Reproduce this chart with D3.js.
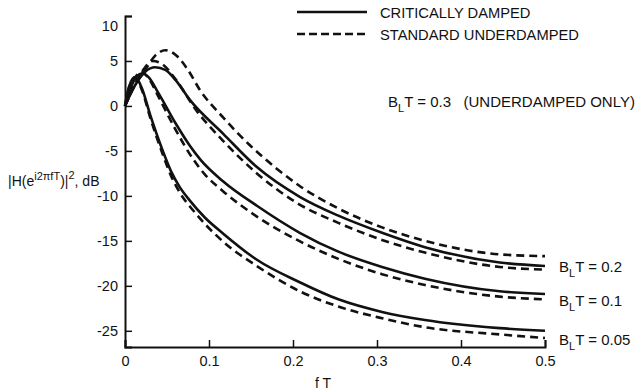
<!DOCTYPE html>
<html>
<head>
<meta charset="utf-8">
<script src="https://cdn.jsdelivr.net/npm/d3@7"></script>
<style>
  body { margin: 0; background: #fff; }
  text { font-family: 'Liberation Sans', Arial, sans-serif; fill: #111; }
</style>
</head>
<body>
<div id="chart"></div>
<script>
// response curves, [fT, dB]
const critical005 = [[0,0],[0.005,2.2],[0.012,3.2],[0.02,2.0],[0.03,-1.0],[0.045,-5.0],[0.055,-7.3],[0.065,-9.0],[0.077,-10.5],[0.095,-12.4],[0.117,-14.2],[0.157,-17.1],[0.208,-19.6],[0.254,-21.5],[0.306,-22.9],[0.357,-23.8],[0.446,-24.7],[0.5,-25.0]]
const under005 = [[0,0],[0.005,2.1],[0.012,3.0],[0.02,1.8],[0.03,-1.3],[0.045,-5.4],[0.055,-7.8],[0.065,-9.6],[0.081,-11.6],[0.095,-13.1],[0.117,-15.1],[0.157,-17.8],[0.208,-20.6],[0.254,-22.3],[0.306,-23.6],[0.357,-24.6],[0.446,-25.4],[0.5,-25.8]]
const critical01 = [[0,0],[0.008,2.3],[0.02,3.6],[0.028,3.2],[0.04,1.4],[0.06,-1.9],[0.077,-4.4],[0.09,-6.0],[0.117,-8.4],[0.157,-11.1],[0.208,-14.1],[0.254,-16.2],[0.306,-17.9],[0.357,-19.2],[0.446,-20.6],[0.5,-20.9]]
const under01 = [[0,0],[0.008,2.3],[0.019,3.8],[0.028,3.1],[0.04,1.0],[0.06,-2.6],[0.081,-5.9],[0.095,-7.6],[0.117,-9.5],[0.157,-12.3],[0.205,-14.9],[0.254,-17.0],[0.306,-18.7],[0.357,-19.9],[0.446,-21.2],[0.5,-21.5]]
const critical02 = [[0,0],[0.012,2.3],[0.024,3.8],[0.036,4.3],[0.048,4.0],[0.06,2.9],[0.077,0.7],[0.117,-3.1],[0.157,-6.8],[0.208,-10.1],[0.254,-12.2],[0.306,-14.1],[0.357,-15.7],[0.446,-17.4],[0.5,-17.8]]
const under02 = [[0,0],[0.012,2.4],[0.024,4.3],[0.033,5.0],[0.045,4.6],[0.06,3.0],[0.085,-0.5],[0.117,-3.9],[0.157,-7.5],[0.205,-10.8],[0.254,-13.0],[0.306,-14.9],[0.357,-16.3],[0.446,-17.9],[0.5,-18.2]]
const under03 = [[0,0],[0.012,2.4],[0.024,4.0],[0.036,5.6],[0.048,6.2],[0.06,5.7],[0.075,4.0],[0.089,1.8],[0.117,-1.3],[0.149,-4.4],[0.181,-7.0],[0.208,-8.9],[0.254,-11.4],[0.306,-13.5],[0.357,-15.0],[0.446,-16.5],[0.5,-16.7]]

const xTicks = [0, 0.1, 0.2, 0.3, 0.4, 0.5]
const yTicks = [10, 5, 0, -5, -10, -15, -20, -25]
const curveLabels = [['0.2', -17.9], ['0.1', -21.7], ['0.05', -26.0]]

const width = 643, height = 392
const margin = {top: 16, right: 98, bottom: 45, left: 125}

const svg = d3.select('#chart').append('svg')
  .attr('width', width)
  .attr('height', height)

const x = d3.scaleLinear()
  .domain([0, 0.5])
  .range([margin.left, width - margin.right])
const y = d3.scaleLinear()
  .domain([-26.8, 10])
  .range([height - margin.bottom, margin.top])

// axes, ticks pointing inward
const xAxis = svg.append('g')
  .attr('transform', `translate(0, ${y(-26.8)})`)
  .call(d3.axisBottom(x).tickValues(xTicks).tickSize(-7).tickPadding(9)
    .tickFormat(d => d === 0 ? '0' : d3.format('.1f')(d)))
const yAxis = svg.append('g')
  .attr('transform', `translate(${x(0)}, 0)`)
  .call(d3.axisLeft(y).tickValues(yTicks).tickSize(-7).tickPadding(7)
    .tickFormat(d => String(d)))
for (const ax of [xAxis, yAxis]) {
  ax.select('.domain').attr('stroke', '#111').attr('stroke-width', 2)
  ax.selectAll('.tick line').attr('stroke', '#111').attr('stroke-width', 1.5)
  ax.selectAll('.tick text').style('font-size', '14.5px').attr('fill', '#111')
    .style('font-family', "'Liberation Sans', Arial, sans-serif")
}
// the "10" label sits a little below its tick in the original
yAxis.selectAll('.tick text').filter(d => d === 10).attr('dy', '1.0em')

// curves
const line = d3.line()
  .x(d => x(d[0]))
  .y(d => y(d[1]))
  .curve(d3.curveMonotoneX)
const series = [
  {data: under03, dash: '8,5'},
  {data: under02, dash: '8,5'},
  {data: under01, dash: '8,5'},
  {data: under005, dash: '8,5'},
  {data: critical02, dash: null},
  {data: critical01, dash: null},
  {data: critical005, dash: null}
]
svg.append('g').selectAll('path').data(series)
  .enter().append('path')
  .attr('d', d => line(d.data))
  .attr('fill', 'none')
  .attr('stroke', '#111')
  .attr('stroke-width', 2.6)
  .attr('stroke-dasharray', d => d.dash)

// legend
const legend = svg.append('g')
legend.append('line').attr('x1', 297).attr('x2', 367).attr('y1', 12).attr('y2', 12)
  .attr('stroke', '#111').attr('stroke-width', 2.6)
legend.append('line').attr('x1', 297).attr('x2', 367).attr('y1', 34).attr('y2', 34)
  .attr('stroke', '#111').attr('stroke-width', 2.6).attr('stroke-dasharray', '8,4')
legend.append('text').attr('x', 380).attr('y', 18).style('font-size', '14.7px').text('CRITICALLY DAMPED')
legend.append('text').attr('x', 380).attr('y', 40).style('font-size', '14.7px').text('STANDARD UNDERDAMPED')

// B_L T labels
function bltLabel(px, py, value, extra) {
  const t = svg.append('text').attr('x', px).attr('y', py).style('font-size', '15px')
  t.append('tspan').text('B')
  t.append('tspan').attr('dy', 5).style('font-size', '11px').text('L')
  t.append('tspan').attr('dy', -5).text('T = ' + value + (extra || ''))
}
for (const [v, db] of curveLabels) {
  bltLabel(x(0.5) + 14, y(db) + 5, v)
}
bltLabel(388, 107, '0.3', '\u00a0\u00a0\u00a0(UNDERDAMPED ONLY)')

// axis titles
const yl = svg.append('text').attr('x', 8).attr('y', 186).style('font-size', '14px')
yl.append('tspan').text('|H(e')
yl.append('tspan').attr('dy', -6).style('font-size', '11px').text('i2\u03c0fT')
yl.append('tspan').attr('dy', 6).text(')|')
yl.append('tspan').attr('dy', -7).style('font-size', '11px').text('2')
yl.append('tspan').attr('dy', 7).text(', dB')

svg.append('text').attr('x', 323).attr('y', 388).attr('text-anchor', 'middle')
  .style('font-size', '14px').text('f T')
</script>
</body>
</html>
